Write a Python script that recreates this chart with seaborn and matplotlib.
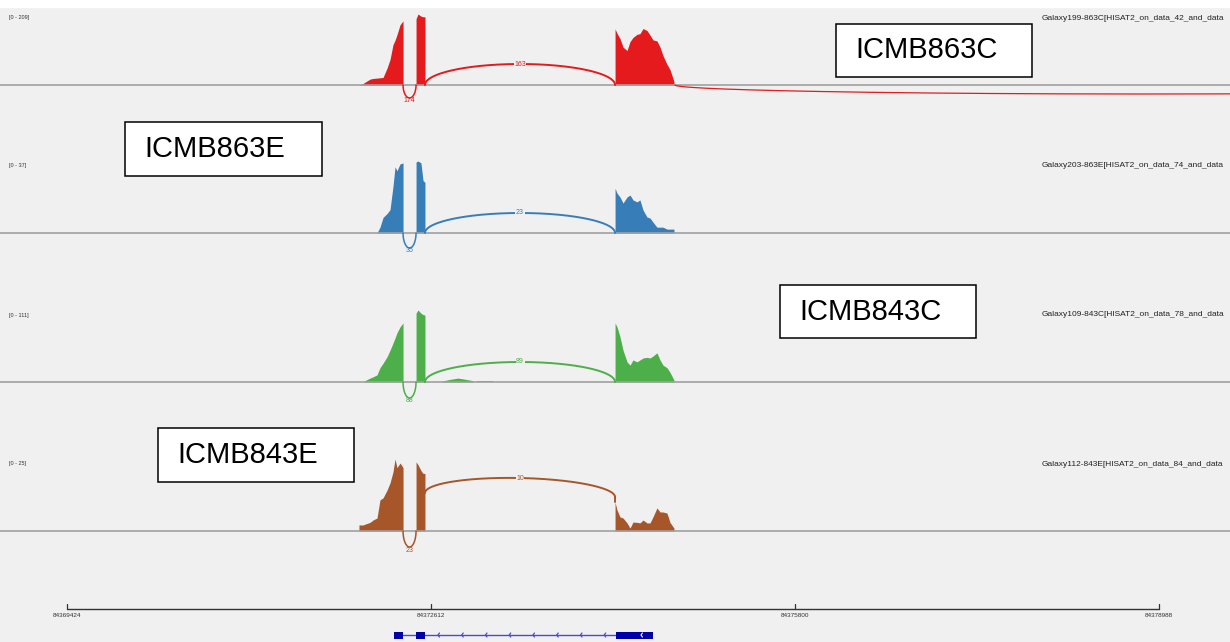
import numpy as np
import matplotlib
matplotlib.use("Agg")
import matplotlib.pyplot as plt
from matplotlib.patches import Rectangle
import seaborn as sns

sns.set_theme(style="white")
plt.rcParams['font.family'] = ['Liberation Sans', 'DejaVu Sans']

# ---------------- data ----------------
x_left, x_right = 84368837, 84379610
tick_positions = [84369424, 84372612, 84375800, 84378988]
tick_labels = ["84369424", "84372612", "84375800", "84378988"]

samples = ["ICMB863C", "ICMB863E", "ICMB843C", "ICMB843E"]
track_names = ["Galaxy199-863C[HISAT2_on_data_42_and_data",
               "Galaxy203-863E[HISAT2_on_data_74_and_data",
               "Galaxy109-843C[HISAT2_on_data_78_and_data",
               "Galaxy112-843E[HISAT2_on_data_84_and_data"]
data_ranges = [209, 37, 111, 25]

exon1_pos = [84371981, 84372016, 84372043, 84372078, 84372104, 84372139, 84372165,
             84372192, 84372227, 84372253, 84372279, 84372297, 84372314, 84372341, 84372367]
exon2_pos = [84372481, 84372498, 84372524, 84372542, 84372559]
exon3_pos = [84374224, 84374241, 84374267, 84374294, 84374329, 84374355, 84374381,
             84374416, 84374442, 84374469, 84374504, 84374530, 84374556, 84374591,
             84374618, 84374644, 84374679, 84374705, 84374740]

cov_863C_e1 = [0, 4, 10, 17, 19, 20, 21, 22, 49, 74, 117, 130, 146, 175, 186]
cov_863C_e2 = [192, 206, 200, 198, 198]
cov_863C_e3 = [163, 150, 135, 110, 100, 126, 138, 147, 149, 164, 158, 145, 131, 128,
               110, 85, 60, 45, 10]

cov_863E_e1 = [0, 0, 0, 0, 0, 0, 3, 8, 10, 12, 24, 34, 32, 35.5, 36]
cov_863E_e2 = [36.5, 37, 36, 27, 26]
cov_863E_e3 = [23, 20.5, 18.5, 15.4, 18.5, 19.5, 17, 16, 17, 11.8, 8.2, 7.7, 5.6, 3,
               3, 3, 2, 2, 2]

cov_843C_e1 = [0, 0, 3, 6, 8, 11, 22, 29, 39, 49, 60, 68, 76, 85, 91]
cov_843C_e2 = [106, 111, 106, 104, 103]
cov_843C_e3 = [91, 85, 70, 49, 31, 26, 34, 31, 34, 37, 38, 37, 40, 45, 34, 26, 22, 15, 3]
intron_bump_pos = [84372708, 84372778, 84372848, 84372919, 84372980]
intron_bump_cov = [1.5, 4, 6, 4, 2]
intron_flat_pos = [84373015, 84373155]
intron_flat_cov = [1.5, 1.5]

cov_843E_e1 = [2.1, 2.1, 2.5, 3, 3.8, 4.5, 10.8, 11.5, 14.2, 16.7, 20.5, 25, 22, 23.6, 22]
cov_843E_e2 = [24, 23, 21, 20, 20]
cov_843E_e3 = [10, 7.3, 4.9, 4.5, 2.8, 1, 3.1, 3, 2.8, 3.8, 2.8, 2.8, 4.9, 8, 6.6, 6.6,
               6.2, 3, 1]

coverage = [
    [cov_863C_e1, cov_863C_e2, cov_863C_e3],
    [cov_863E_e1, cov_863E_e2, cov_863E_e3],
    [cov_843C_e1, cov_843C_e2, cov_843C_e3],
    [cov_843E_e1, cov_843E_e2, cov_843E_e3],
]

# junctions: short (below) and long (above)
short_junction = (84372367, 84372481)
long_junction = (84372559, 84374224)
short_counts = [174, 35, 88, 23]
long_counts = [163, 23, 89, 10]
far_junction_863C = (84374749, 84382982)

# gene model
gene_exons = [(84372288, 84372367), (84372481, 84372559), (84374232, 84374556)]

# ---------------- layout / style ----------------
W, H = 1230, 642
BG = "#f0f0f0"
pal = sns.color_palette("Set1")
colors = [pal[0], pal[1], pal[2], pal[6]]
baselines_px = [85, 233, 382, 531]
PX_PER_FULL = 72.0
up_arc_px = [21, 20, 20, 17]
up_arc_base_px = [(0, 0), (0, 0), (0, 0), (38, 34)]
down_arc_px = [13, 15, 16, 16]
box_px = [(836, 24, 1032, 77), (125, 122, 322, 176), (780, 285, 976, 338), (158, 428, 354, 482)]

fig = plt.figure(figsize=(W / 100, H / 100), dpi=100, facecolor=BG)
fig.add_artist(Rectangle((0, 1 - 7 / H), 1, 7 / H, color="white",
                         transform=fig.transFigure, zorder=0))


def draw_arc(ax, x0, x1, h, sign, color, lw, b0=0.0, b1=0.0):
    t = np.linspace(0, np.pi, 300)
    mid, half = (x0 + x1) / 2, (x1 - x0) / 2
    xs = mid - half * np.cos(t)
    base = b0 + (b1 - b0) * (xs - x0) / (x1 - x0)
    ys = base + sign * h * np.sin(t)
    sns.lineplot(x=xs, y=ys, ax=ax, color=color, linewidth=lw, sort=False,
                 estimator=None, zorder=4)
    return mid, (b0 + b1) / 2 + sign * h


segments_pos = [exon1_pos, exon2_pos, exon3_pos]
for i in range(4):
    b = baselines_px[i]
    M = data_ranges[i]
    u = M / PX_PER_FULL  # data units per pixel
    ax = fig.add_axes([0, 1 - (b + 30) / H, 1, 108 / H])
    ax.set_xlim(x_left, x_right)
    ax.set_ylim(-30 * u, 78 * u)
    ax.axis("off")
    ax.patch.set_alpha(0)
    c = colors[i]
    for pos, cov in zip(segments_pos, coverage[i]):
        ax.fill_between(pos, 0, cov, color=c, linewidth=0, zorder=2)
    if i == 2:
        ax.fill_between(intron_bump_pos, 0, intron_bump_cov, color=c, linewidth=0, zorder=2)
        ax.fill_between(intron_flat_pos, 0, intron_flat_cov, color=c, linewidth=0, zorder=2)
    ax.axhline(0, color="#a0a0a0", linewidth=1.2, zorder=3)

    # long junction (above)
    b0, b1 = up_arc_base_px[i]
    mx, my = draw_arc(ax, long_junction[0], long_junction[1], up_arc_px[i] * u, 1, c, 1.4,
                      b0 * u, b1 * u)
    if b1 > 0:
        ax.plot([long_junction[1], long_junction[1]], [b1 * u, coverage[i][2][0]],
                color=c, lw=1.4, zorder=4)
    ax.text(mx, my, str(long_counts[i]), fontsize=5, color=c, ha="center", va="center",
            zorder=5, bbox=dict(facecolor=BG, edgecolor="none", pad=0.4))
    # short junction (below)
    mx, my = draw_arc(ax, short_junction[0], short_junction[1], down_arc_px[i] * u, -1, c, 1.1)
    ax.text(mx, my - 3 * u, str(short_counts[i]), fontsize=5, color=c, ha="center",
            va="center", zorder=5)
    if i == 0:
        draw_arc(ax, far_junction_863C[0], far_junction_863C[1], 9 * u, -1, c, 0.9)

    fig.text(9 / W, 1 - (b - 67) / H, f"[0 - {M}]", fontsize=4, color="#333333",
             ha="left", va="center")
    fig.text(1042 / W, 1 - (b - 67) / H, track_names[i], fontsize=6, color="#222222",
             ha="left", va="center")

# sample label boxes
for (x0, y0, x1, y1), name in zip(box_px, samples):
    fig.add_artist(Rectangle((x0 / W, 1 - y1 / H), (x1 - x0) / W, (y1 - y0) / H,
                             transform=fig.transFigure, facecolor="white",
                             edgecolor="black", linewidth=1.1, zorder=10))
    fig.text((x0 + 19) / W, 1 - ((y0 + y1) / 2) / H, name, fontsize=21, color="black",
             ha="left", va="center", zorder=11)

# ruler + gene model
axr = fig.add_axes([0, 0, 1, 52 / H])
axr.set_xlim(x_left, x_right)
axr.set_ylim(52, 0)
axr.axis("off")
axr.patch.set_alpha(0)
axr.plot([tick_positions[0], tick_positions[-1]], [19, 19], color="#333333", lw=1)
for tp, tl in zip(tick_positions, tick_labels):
    axr.plot([tp, tp], [14, 19], color="#333333", lw=0.9)
    axr.text(tp, 25.5, tl, fontsize=4.6, color="#333333", ha="center", va="center")

gene_color = "#0000a8"
line_color = "#4a4ad0"
axr.plot([gene_exons[0][1], gene_exons[-1][0]], [45, 45], color=line_color, lw=1, zorder=2)
for s, e in gene_exons:
    axr.add_patch(Rectangle((s, 41.5), e - s, 7, facecolor=gene_color, edgecolor="none",
                            zorder=3))
bp_px = (tick_positions[1] - tick_positions[0]) / 364.0
for p in np.arange(gene_exons[1][1] + 114, gene_exons[2][0] - 50, 208):
    axr.plot([p + 1.5 * bp_px, p, p + 1.5 * bp_px], [43, 45, 47], color=line_color,
             lw=0.9, zorder=3)
pw = gene_exons[2][0] + 25 * bp_px
axr.plot([pw + 1.5 * bp_px, pw, pw + 1.5 * bp_px], [43, 45, 47], color="white",
         lw=0.8, zorder=4)

fig.savefig("out.png", dpi=100, facecolor=BG)
